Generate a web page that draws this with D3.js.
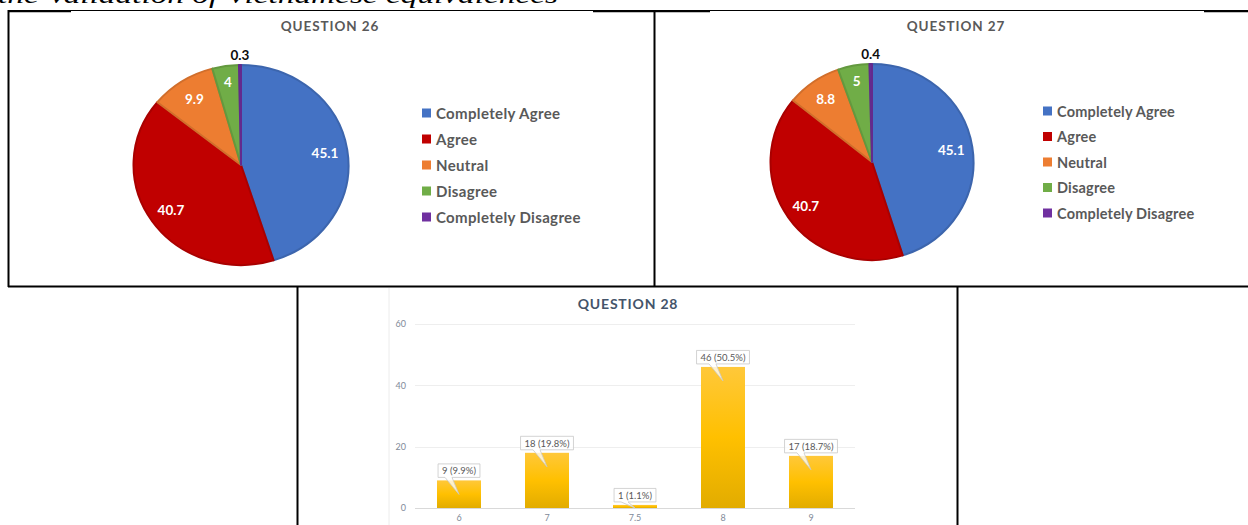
<!DOCTYPE html>
<html>
<head>
<meta charset="utf-8">
<script src="https://cdn.jsdelivr.net/npm/d3@7"></script>
<style>
  html, body { margin: 0; padding: 0; background: #fff; }
  svg { display: block; }
</style>
</head>
<body>
<svg id="chart" width="1248" height="525"></svg>
<script>
// ---------------- DATA ----------------
const pieCategories = ["Completely Agree", "Agree", "Neutral", "Disagree", "Completely Disagree"];
const q26Values = [45.1, 40.7, 9.9, 4, 0.3];
const q27Values = [45.1, 40.7, 8.8, 5, 0.4];
const q26Title = "QUESTION 26";
const q27Title = "QUESTION 27";

const q28Categories = ["6", "7", "7.5", "8", "9"];
const q28Counts = [9, 18, 1, 46, 17];
const q28Percents = ["9.9%", "19.8%", "1.1%", "50.5%", "18.7%"];
const q28Ticks = [0, 20, 40, 60];
const q28Title = "QUESTION 28";

const headingText = "the Validation of Vietnamese equivalences";

// ---------------- STYLE ----------------
const sliceColors = ["#4472C4", "#C00000", "#ED7D31", "#70AD47", "#7030A0"];
const FONT = "Lato, 'Open Sans', sans-serif";

const svg = d3.select("#chart");
svg.append("rect").attr("width", 1248).attr("height", 525).attr("fill", "#fff");

// heading (cut off at top of page)
svg.append("text")
  .attr("x", -2).attr("y", 2.5)
  .attr("font-family", "'Liberation Serif', 'Times New Roman', serif")
  .attr("font-style", "italic")
  .attr("font-size", 24)
  .attr("textLength", 560)
  .attr("lengthAdjust", "spacingAndGlyphs")
  .attr("fill", "#000")
  .text(headingText);

// ---------------- PIE ----------------
function drawPie(opt) {
  const g = svg.append("g");
  g.append("text")
    .attr("x", opt.titleX).attr("y", opt.titleY)
    .attr("text-anchor", "middle").attr("dominant-baseline", "central")
    .attr("font-family", FONT).attr("font-weight", 700)
    .attr("font-size", 13.5).attr("letter-spacing", 0.9)
    .attr("fill", "#595959")
    .text(opt.title);

  const R = 100;
  const pie = d3.pie().sort(null).value(d => d)(opt.values);
  const arc = d3.arc().innerRadius(0).outerRadius(R);
  const pg = g.append("g")
    .attr("transform", `translate(${opt.cx},${opt.cy}) scale(${opt.rx / R},${opt.ry / R})`);
  pg.selectAll("path").data(pie).join("path")
    .attr("d", arc)
    .attr("fill", (d, i) => sliceColors[i])
    .attr("stroke", (d, i) => d3.color(sliceColors[i]).darker(0.35))
    .attr("stroke-width", 2)
    .attr("vector-effect", "non-scaling-stroke")
    .attr("stroke-linejoin", "round");

  g.selectAll("text.lbl").data(pie).join("text")
    .attr("class", "lbl")
    .each(function (d) {
      const a = (d.startAngle + d.endAngle) / 2;
      const small = d.data < 1;
      const f = small ? 1.1 : (d.data < 6 ? 0.84 : 0.79);
      d3.select(this)
        .attr("x", opt.cx + Math.sin(a) * f * opt.rx)
        .attr("y", opt.cy - Math.cos(a) * f * opt.ry)
        .attr("fill", small ? "#0d0d0d" : "#fff");
    })
    .attr("text-anchor", "middle").attr("dominant-baseline", "central")
    .attr("font-family", FONT).attr("font-weight", 700)
    .attr("font-size", 13.5)
    .text(d => String(d.data));

  const lg = g.append("g");
  pieCategories.forEach((c, i) => {
    const y = opt.legendY + i * opt.legendStep;
    lg.append("rect")
      .attr("x", opt.legendX).attr("y", y - 4.5)
      .attr("width", 9).attr("height", 9)
      .attr("fill", sliceColors[i]);
    lg.append("text")
      .attr("x", opt.legendX + 14).attr("y", y)
      .attr("dominant-baseline", "central")
      .attr("font-family", FONT).attr("font-weight", 700)
      .attr("font-size", opt.legendFont)
      .attr("letter-spacing", opt.legendSpacing)
      .attr("fill", "#595959")
      .text(c);
  });
}

drawPie({ values: q26Values, title: q26Title, titleX: 330, titleY: 26,
  cx: 241, cy: 165, rx: 107.5, ry: 100,
  legendX: 422, legendY: 113, legendStep: 26, legendFont: 15, legendSpacing: 0.35 });
drawPie({ values: q27Values, title: q27Title, titleX: 956, titleY: 25.5,
  cx: 872, cy: 162, rx: 101.5, ry: 98,
  legendX: 1043, legendY: 111, legendStep: 25.5, legendFont: 14.5, legendSpacing: 0.2 });

// ---------------- BAR ----------------
const defs = svg.append("defs");
const grad = defs.append("linearGradient").attr("id", "barGrad")
  .attr("x1", 0).attr("y1", 0).attr("x2", 0).attr("y2", 1);
grad.append("stop").attr("offset", "0%").attr("stop-color", "#FFC83A");
grad.append("stop").attr("offset", "50%").attr("stop-color", "#FFC000");
grad.append("stop").attr("offset", "100%").attr("stop-color", "#E2AC00");

// faint edge of the chart image
svg.append("line").attr("x1", 389).attr("x2", 389).attr("y1", 288).attr("y2", 525)
  .attr("stroke", "#ececec").attr("stroke-width", 1);

const bx = d3.scaleBand().domain(q28Categories).range([415, 855]).paddingInner(0.5).paddingOuter(0.25);
const by = d3.scaleLinear().domain([0, 60]).range([508, 324]);

const bg = svg.append("g");
bg.append("text")
  .attr("x", 628).attr("y", 303)
  .attr("text-anchor", "middle").attr("dominant-baseline", "central")
  .attr("font-family", FONT).attr("font-weight", 700)
  .attr("font-size", 14).attr("letter-spacing", 0.8)
  .attr("fill", "#44546A")
  .text(q28Title);

// gridlines
bg.selectAll("line.grid").data(q28Ticks).join("line")
  .attr("class", "grid")
  .attr("x1", 415).attr("x2", 855)
  .attr("y1", d => Math.round(by(d)) + 0.5).attr("y2", d => Math.round(by(d)) + 0.5)
  .attr("stroke", d => d === 0 ? "#d9d9d9" : "#eeeeee").attr("stroke-width", 1);

// y axis labels
const yAxis = d3.axisLeft(by).tickValues(q28Ticks).tickSize(0).tickPadding(0);
const yg = bg.append("g").attr("transform", "translate(406,0)").call(yAxis);
yg.select(".domain").remove();
yg.selectAll("text").attr("font-family", FONT).attr("font-size", 9).attr("fill", "#7f8a99");

// x axis labels
const xAxis = d3.axisBottom(bx).tickSize(0).tickPadding(0);
const xg = bg.append("g").attr("transform", "translate(0,515)").call(xAxis);
xg.select(".domain").remove();
xg.selectAll("text").attr("font-family", FONT).attr("font-size", 9).attr("fill", "#7f8a99");

// bars
bg.selectAll("rect.bar").data(q28Categories).join("rect")
  .attr("class", "bar")
  .attr("x", d => bx(d)).attr("width", bx.bandwidth())
  .attr("y", (d, i) => by(q28Counts[i]))
  .attr("height", (d, i) => by(0) - by(q28Counts[i]))
  .attr("fill", "url(#barGrad)");

// callout labels
q28Categories.forEach((c, i) => {
  const cxm = bx(c) + bx.bandwidth() / 2;
  const top = by(q28Counts[i]);
  const label = `${q28Counts[i]} (${q28Percents[i]})`;
  const t = bg.append("text")
    .attr("x", cxm).attr("y", top - 9.5)
    .attr("text-anchor", "middle").attr("dominant-baseline", "central")
    .attr("font-family", FONT).attr("font-size", 9.5)
    .attr("fill", "#595959")
    .text(label);
  const w = t.node().getComputedTextLength() + 8;
  const x0 = cxm - w / 2, x1 = cxm + w / 2;
  const y0 = top - 16.5, y1 = top - 3;
  const tipY = Math.min(top + 14, by(0));
  const path = `M${x0},${y0} H${x1} V${y1} H${cxm - 7} L${cxm},${tipY} L${cxm - 14},${y1} H${x0} Z`;
  bg.insert("path", () => t.node())
    .attr("d", path)
    .attr("fill", "#ffffff").attr("fill-opacity", 0.75)
    .attr("stroke", "#c8c8c8").attr("stroke-width", 0.8);
});

// ---------------- PAGE BORDERS ----------------
const border = svg.append("g").attr("stroke", "#000").attr("fill", "none");
border.append("line").attr("x1", 8).attr("x2", 1248).attr("y1", 10.5).attr("y2", 10.5).attr("stroke-width", 1.2);
[[8, 71], [593, 710], [1204, 1248]].forEach(s => {
  border.append("line").attr("x1", s[0]).attr("x2", s[1]).attr("y1", 11.5).attr("y2", 11.5).attr("stroke-width", 1.5);
});
border.append("line").attr("x1", 8.5).attr("x2", 8.5).attr("y1", 10).attr("y2", 287).attr("stroke-width", 2);
border.append("line").attr("x1", 654.5).attr("x2", 654.5).attr("y1", 10).attr("y2", 287).attr("stroke-width", 2);
border.append("line").attr("x1", 8).attr("x2", 1248).attr("y1", 286.5).attr("y2", 286.5).attr("stroke-width", 2);
border.append("line").attr("x1", 297.5).attr("x2", 297.5).attr("y1", 286).attr("y2", 525).attr("stroke-width", 2);
border.append("line").attr("x1", 957.5).attr("x2", 957.5).attr("y1", 286).attr("y2", 525).attr("stroke-width", 2);
</script>
</body>
</html>
